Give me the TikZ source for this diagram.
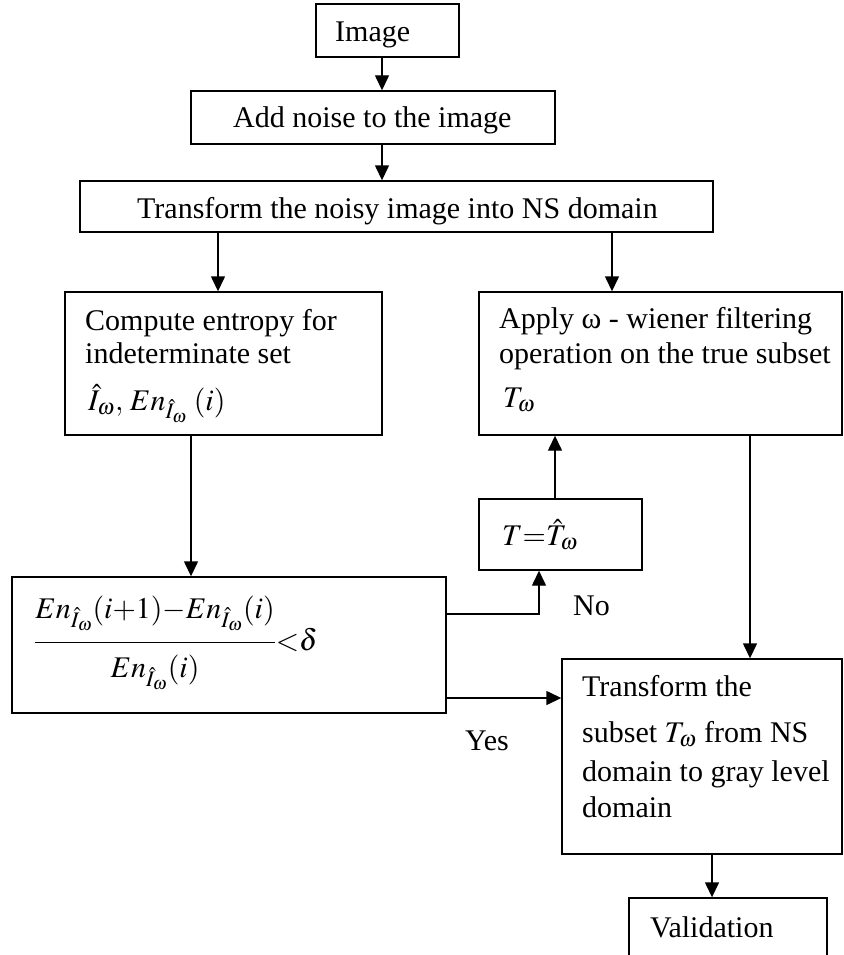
\documentclass[tikz,border=0pt]{standalone}
\usepackage{mathptmx}
\usepackage{fontspec}
\setmainfont{Liberation Serif}
\usetikzlibrary{arrows.meta}
\begin{document}
\begin{tikzpicture}[x=1pt,y=-1pt,
  box/.style={draw, line width=1.4pt, inner sep=0pt, minimum width=#1},
  txt/.style={inner sep=0pt, anchor=base west, font=\fontsize{30}{34}\selectfont},
  arr/.style={line width=1.4pt, -{Triangle[length=15pt,width=14pt]}}]
\useasboundingbox (0,0) rectangle (843,955);
% boxes
\node[box=143pt, minimum height=53pt] (img) at (387.5,30.5) {};
\node[box=364pt, minimum height=53pt] (noise) at (373,117.5) {};
\node[box=633pt, minimum height=51pt] (ns) at (396.5,206.5) {};
\node[box=317pt, minimum height=143pt] (comp) at (223.5,363.5) {};
\node[box=363pt, minimum height=143pt] (apply) at (660.5,363.5) {};
\node[box=163pt, minimum height=71pt] (tbox) at (560.5,534.5) {};
\node[box=434pt, minimum height=136pt] (frac) at (229,645) {};
\node[box=280pt, minimum height=195pt] (final) at (702,756.5) {};
\node[box=198pt, minimum height=58pt] (valid) at (728,927) {};
% texts
\node[txt] (timg) at (335,42) {Image};
\node[txt] (tnoise) at (233,128) {Add noise to the image};
\node[txt] (tns) at (137,218) {Transform the noisy image into NS domain};
\node[txt] (tc1) at (85,330) {Compute entropy for};
\node[txt] (tc2) at (85,363) {indeterminate set};
\node[txt] (tc3) at (88,410) {$\hat{I}_\omega,\,En_{\hat{I}_\omega}\;(i)$};
\node[txt] (ta1) at (499,328) {Apply ω - wiener filtering};
\node[txt] (ta2) at (499,363) {operation on the true subset};
\node[txt] (ta3) at (503,407) {$T_\omega$};
\node[txt] (tt) at (502,545) {$T{=}\hat{T}_\omega$};
\node[txt] (tfrac) at (34,650) {$\displaystyle\frac{\rule[-20pt]{0pt}{20pt}En_{\hat{I}_\omega}(i{+}1){-}En_{\hat{I}_\omega}(i)}{\rule{0pt}{31pt}En_{\hat{I}_\omega}(i)}{<}\delta$};
\node[txt] (tf1) at (582,696) {Transform the};
\node[txt] (tf2) at (582,742) {subset $T_\omega$ from NS};
\node[txt] (tf3) at (582,781) {domain to gray level};
\node[txt] (tf4) at (582,817) {domain};
\node[txt] (tv) at (650,937) {Validation};
\node[txt] (tno) at (573,615) {No};
\node[txt] (tyes) at (465,750) {Yes};
% connectors
\coordinate (xA) at (382,0);
\coordinate (xB) at (218,0);
\coordinate (xC) at (612,0);
\coordinate (xD) at (191,0);
\coordinate (xE) at (555,0);
\coordinate (xF) at (750,0);
\coordinate (xG) at (712,0);
\coordinate (xNo) at (539,0);
\coordinate (yNo) at (0,614);
\coordinate (yYes) at (0,698);
\draw[arr] (xA |- img.south) -- (xA |- noise.north);
\draw[arr] (xA |- noise.south) -- (xA |- ns.north);
\draw[arr] (xB |- ns.south) -- (xB |- comp.north);
\draw[arr] (xC |- ns.south) -- (xC |- apply.north);
\draw[arr] (xD |- comp.south) -- (xD |- frac.north);
\draw[arr] (frac.east |- yNo) -| (xNo |- tbox.south);
\draw[arr] (xE |- tbox.north) -- (xE |- apply.south);
\draw[arr] (frac.east |- yYes) -- (final.west |- yYes);
\draw[arr] (xF |- apply.south) -- (xF |- final.north);
\draw[arr] (xG |- final.south) -- (xG |- valid.north);
\end{tikzpicture}
\end{document}
